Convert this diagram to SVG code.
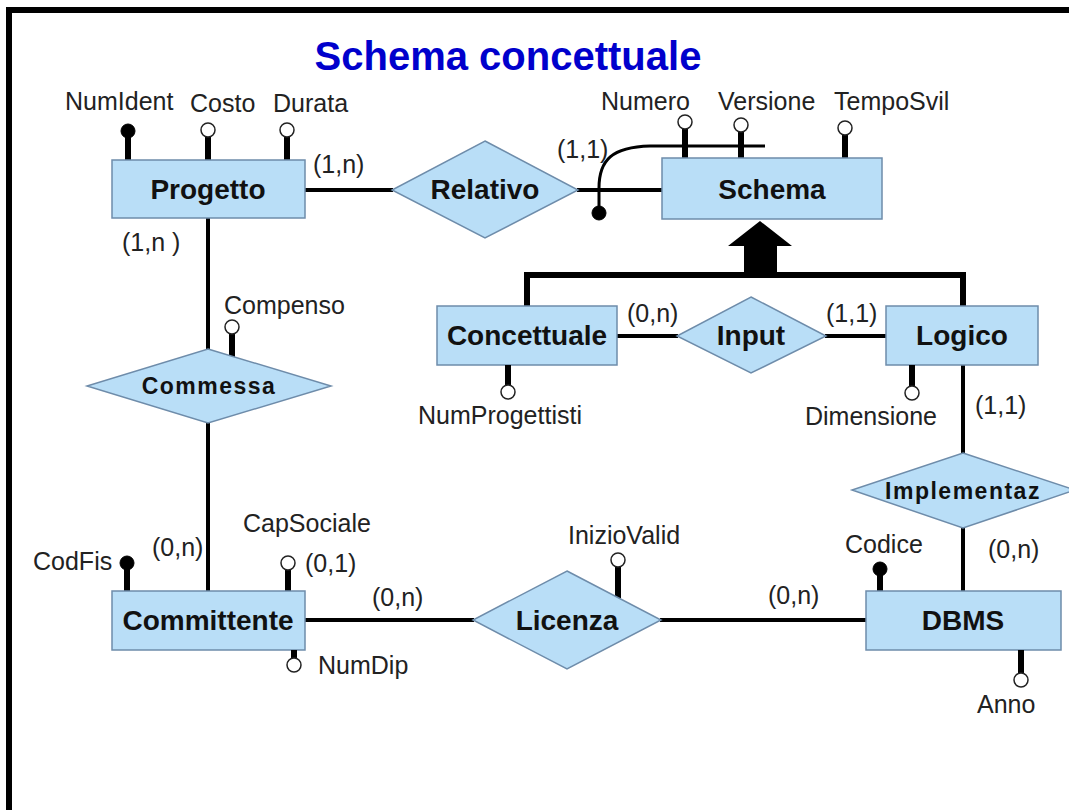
<svg xmlns="http://www.w3.org/2000/svg" width="1069" height="810" viewBox="0 0 1069 810">
<style>
.ent{fill:#B9DEF7;stroke:#6E8CAA;stroke-width:1.5}
.rel{fill:#B9DEF7;stroke:#6E8CAA;stroke-width:1.5}
.ln{stroke:#000;stroke-width:4;fill:none}
.stem{stroke:#000;stroke-width:6;fill:none}
.gen{stroke:#000;stroke-width:6;fill:none}
.oc{fill:#fff;stroke:#222;stroke-width:1.5}
.fc{fill:#000;stroke:#000;stroke-width:1}
.en{font-family:"Liberation Sans",Arial,sans-serif;font-weight:bold;font-size:28px;fill:#111;text-anchor:middle}
.rn{font-family:"Liberation Sans",Arial,sans-serif;font-weight:bold;font-size:23px;fill:#111;text-anchor:middle;letter-spacing:1.5px}
.at{font-family:"Liberation Sans",Arial,sans-serif;font-size:25px;fill:#222}
.card{font-family:"Liberation Sans",Arial,sans-serif;font-size:25px;fill:#222}
.title{font-family:"Liberation Sans",Arial,sans-serif;font-weight:bold;font-size:40px;fill:#0000CC;text-anchor:middle}
</style>
<rect x="0" y="0" width="1069" height="810" fill="#fff"/>
<path d="M9,810 V10 H1069" fill="none" stroke="#000" stroke-width="6"/>
<text class="title" x="508" y="70">Schema concettuale</text>

<g id="connectors">
  <line class="ln" x1="305" y1="190" x2="393" y2="190"/>
  <line class="ln" x1="577" y1="190" x2="662" y2="190"/>
  <line class="ln" x1="208" y1="218" x2="208" y2="350"/>
  <line class="ln" x1="208" y1="422" x2="208" y2="591"/>
  <line class="ln" x1="305" y1="620" x2="474" y2="620"/>
  <line class="ln" x1="660" y1="620" x2="866" y2="620"/>
  <line class="ln" x1="617" y1="336" x2="678" y2="336"/>
  <line class="ln" x1="825" y1="336" x2="886" y2="336"/>
  <line class="ln" x1="963" y1="365" x2="963" y2="454"/>
  <line class="ln" x1="963" y1="527" x2="963" y2="591"/>
  <path class="gen" d="M527,306 V275 H963 V306"/>
  <polygon points="744,278 777,278 777,246 792,246 760,221 728,246 744,246" fill="#000"/>
  <path d="M599,213 V188 C599,160 612,147 650,146 H765" fill="none" stroke="#000" stroke-width="3"/>
  <circle class="fc" cx="599" cy="213" r="7"/>
  <text class="card" x="313" y="173">(1,n)</text>
  <text class="card" x="122" y="251">(1,n )</text>
  <text class="card" x="557" y="158">(1,1)</text>
  <text class="card" x="627" y="322">(0,n)</text>
  <text class="card" x="826" y="322">(1,1)</text>
  <text class="card" x="975" y="414">(1,1)</text>
  <text class="card" x="988" y="558">(0,n)</text>
  <text class="card" x="152" y="556">(0,n)</text>
  <text class="card" x="372" y="606">(0,n)</text>
  <text class="card" x="768" y="604">(0,n)</text>
  <text class="card" x="305" y="572">(0,1)</text>
</g>

<g id="Progetto">
  <line class="stem" x1="128" y1="136" x2="128" y2="160"/>
  <circle class="fc" cx="128" cy="131" r="7"/>
  <line class="stem" x1="208" y1="137" x2="208" y2="160"/>
  <circle class="oc" cx="208" cy="130" r="7"/>
  <line class="stem" x1="287" y1="137" x2="287" y2="160"/>
  <circle class="oc" cx="287" cy="130" r="7"/>
  <text class="at" x="65" y="110">NumIdent</text>
  <text class="at" x="190" y="112">Costo</text>
  <text class="at" x="273" y="112">Durata</text>
  <rect class="ent" x="112" y="160" width="193" height="58"/>
  <text class="en" x="208" y="199">Progetto</text>
</g>

<g id="Schema">
  <line class="stem" x1="685" y1="129" x2="685" y2="158"/>
  <circle class="oc" cx="685" cy="122" r="7"/>
  <line class="stem" x1="741" y1="132" x2="741" y2="158"/>
  <circle class="oc" cx="741" cy="125" r="7"/>
  <line class="stem" x1="845" y1="135" x2="845" y2="158"/>
  <circle class="oc" cx="845" cy="128" r="7"/>
  <text class="at" x="601" y="110">Numero</text>
  <text class="at" x="718" y="110">Versione</text>
  <text class="at" x="834" y="110">TempoSvil</text>
  <rect class="ent" x="662" y="158" width="220" height="61"/>
  <text class="en" x="772" y="199">Schema</text>
</g>

<g id="Relativo">
  <polygon class="rel" points="485,141 578,190 485,238 392,190"/>
  <text class="en" x="485" y="199">Relativo</text>
</g>

<g id="Concettuale">
  <rect class="ent" x="437" y="306" width="180" height="59"/>
  <text class="en" x="527" y="345">Concettuale</text>
  <line class="stem" x1="508" y1="365" x2="508" y2="385"/>
  <circle class="oc" cx="508" cy="392" r="7"/>
  <text class="at" x="418" y="424">NumProgettisti</text>
</g>

<g id="Input">
  <polygon class="rel" points="751,297 826,336 751,373 677,336"/>
  <text class="en" x="751" y="345">Input</text>
</g>

<g id="Logico">
  <rect class="ent" x="886" y="306" width="152" height="59"/>
  <text class="en" x="962" y="345">Logico</text>
  <line class="stem" x1="912" y1="365" x2="912" y2="386"/>
  <circle class="oc" cx="912" cy="393" r="7"/>
  <text class="at" x="805" y="425">Dimensione</text>
</g>

<g id="Commessa">
  <line class="stem" x1="232" y1="334" x2="232" y2="358"/>
  <circle class="oc" cx="232" cy="327" r="7"/>
  <text class="at" x="224" y="314">Compenso</text>
  <polygon class="rel" points="208,349 331,386 208,423 87,386"/>
  <text class="rn" x="209" y="394">Commessa</text>
</g>

<g id="Implementaz">
  <polygon class="rel" points="963,453 1075,490 963,528 852,490"/>
  <text class="rn" x="963" y="499">Implementaz</text>
</g>

<g id="Committente">
  <line class="stem" x1="127" y1="568" x2="127" y2="591"/>
  <circle class="fc" cx="127" cy="563" r="7"/>
  <text class="at" x="33" y="570">CodFis</text>
  <line class="stem" x1="288" y1="570" x2="288" y2="591"/>
  <circle class="oc" cx="288" cy="563" r="7"/>
  <text class="at" x="243" y="532">CapSociale</text>
  <rect class="ent" x="112" y="591" width="193" height="59"/>
  <text class="en" x="208" y="630">Committente</text>
  <line class="stem" x1="294" y1="650" x2="294" y2="658"/>
  <circle class="oc" cx="294" cy="665" r="7"/>
  <text class="at" x="318" y="674">NumDip</text>
</g>

<g id="Licenza">
  <line class="stem" x1="618" y1="567" x2="618" y2="598"/>
  <circle class="oc" cx="618" cy="560" r="7"/>
  <text class="at" x="568" y="544">InizioValid</text>
  <polygon class="rel" points="567,571 661,620 567,669 473,620"/>
  <text class="en" x="567" y="630">Licenza</text>
</g>

<g id="DBMS">
  <line class="stem" x1="880" y1="574" x2="880" y2="591"/>
  <circle class="fc" cx="880" cy="569" r="7"/>
  <text class="at" x="845" y="553">Codice</text>
  <rect class="ent" x="866" y="591" width="195" height="59"/>
  <text class="en" x="963" y="630">DBMS</text>
  <line class="stem" x1="1021" y1="650" x2="1021" y2="673"/>
  <circle class="oc" cx="1021" cy="680" r="7"/>
  <text class="at" x="977" y="713">Anno</text>
</g>
</svg>
